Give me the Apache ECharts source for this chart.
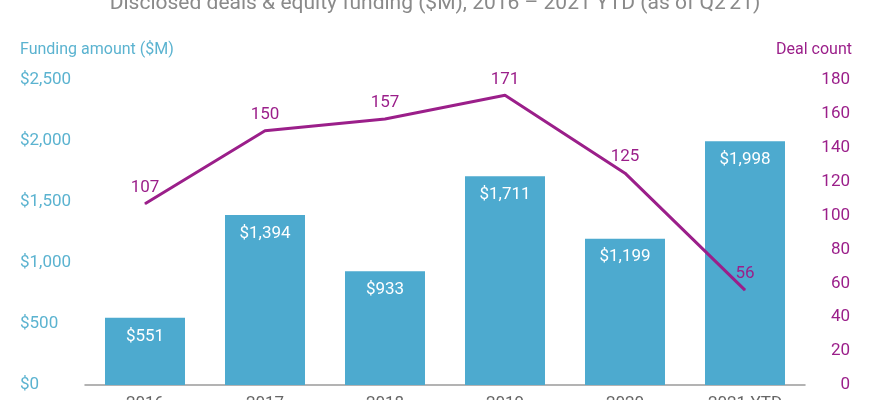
<!DOCTYPE html>
<html>
<head>
<meta charset="utf-8">
<script src="https://cdn.jsdelivr.net/npm/echarts@6/dist/echarts.min.js"></script>
<style>
  html, body { margin: 0; padding: 0; background: #fff; }
  #chart { width: 870px; height: 400px; }
</style>
</head>
<body>
<div id="chart"></div>
<script>
const years = ['2016', '2017', '2018', '2019', '2020', '2021 YTD'];
const funding = [551, 1394, 933, 1711, 1199, 1998];
const deals = [107, 150, 157, 171, 125, 56];

const BLUE = '#4daacf';
const PURPLE = '#9b1f8a';
const FONT = 'Roboto, sans-serif';

const chart = echarts.init(document.getElementById('chart'));

const money = v => '$' + v.toLocaleString('en-US');

chart.setOption({
    animation: false,
    textStyle: { fontFamily: FONT },
    title: {
        text: 'Disclosed deals & equity funding ($M), 2016 – 2021 YTD (as of Q2\'21)',
        left: 'center',
        top: -12,
        textStyle: { color: '#8a8a8a', fontSize: 21, fontWeight: 'normal', fontFamily: FONT }
    },
    graphic: [
        {
            type: 'text', left: 20, top: 42,
            style: { text: 'Funding amount ($M)', fill: '#5bb3d0', font: '16px ' + FONT }
        },
        {
            type: 'text', right: 18, top: 42,
            style: { text: 'Deal count', fill: PURPLE, font: '16px ' + FONT }
        }
    ],
    grid: { left: 85, right: 65, top: 80, bottom: 15, outerBoundsMode: 'none', containLabel: false },
    xAxis: {
        type: 'category',
        data: years,
        axisTick: { show: false },
        axisLine: { lineStyle: { color: '#9a9a9a', width: 1.5 } },
        axisLabel: { color: '#666', fontSize: 17, margin: 10 }
    },
    yAxis: [
        {
            type: 'value', min: 0, max: 2500, interval: 500,
            splitLine: { show: false },
            axisLabel: {
                color: '#5bb3d0', fontSize: 17, align: 'left', margin: 65,
                formatter: money
            }
        },
        {
            type: 'value', min: 0, max: 180, interval: 20,
            splitLine: { show: false },
            axisLine: { show: false },
            axisLabel: { color: PURPLE, fontSize: 17, align: 'right', margin: 45 }
        }
    ],
    series: [
        {
            name: 'Funding',
            type: 'bar',
            data: funding,
            barWidth: 80,
            itemStyle: { color: BLUE },
            label: {
                show: true, position: 'insideTop', distance: 10,
                color: '#fff', fontSize: 17, formatter: p => money(p.value)
            }
        },
        {
            name: 'Deals',
            type: 'line',
            yAxisIndex: 1,
            data: deals,
            symbol: 'circle',
            symbolSize: 1,
            itemStyle: { color: PURPLE },
            lineStyle: { color: PURPLE, width: 3 },
            label: {
                show: true, position: 'top', distance: 7,
                color: PURPLE, fontSize: 17
            }
        }
    ]
});
</script>
</body>
</html>
